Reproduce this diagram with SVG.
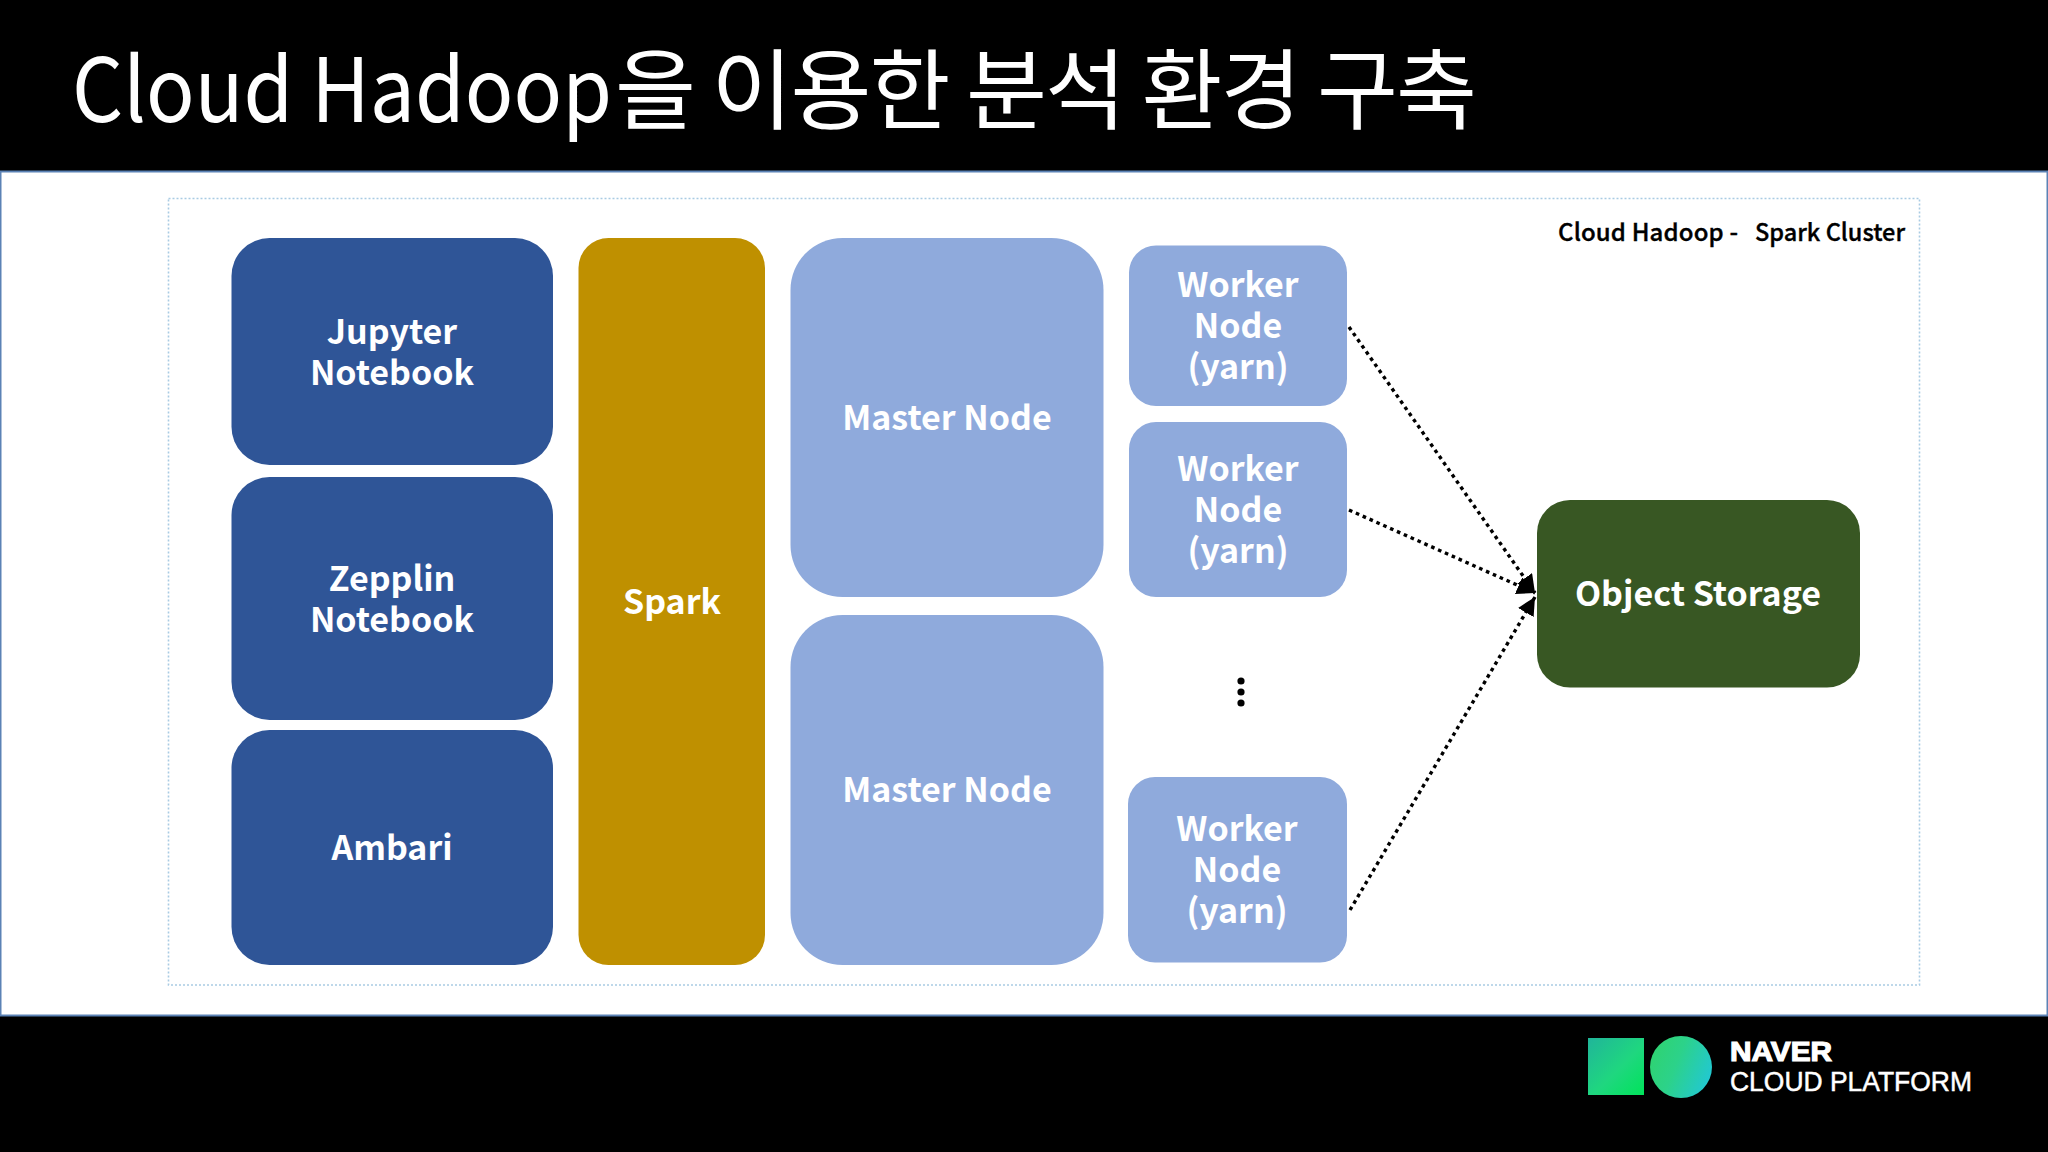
<svg xmlns="http://www.w3.org/2000/svg" width="2048" height="1152" viewBox="0 0 2048 1152">
<style>
.lbl{font-family:"Noto Sans CJK KR","Noto Sans",sans-serif;font-weight:700;font-size:34px;fill:#fff;text-anchor:middle}
.b{fill:#2F5597}.g{fill:#BF9000}.l{fill:#8FAADC}.o{fill:#385723}
.c{fill:none;stroke:#000;stroke-width:3.4;stroke-dasharray:3.6 3.9;marker-end:url(#arr)}
</style>
<defs>
<marker id="arr" markerUnits="userSpaceOnUse" markerWidth="20" markerHeight="18" refX="18" refY="9" orient="auto"><path d="M0 0L18 9L0 18Z" fill="#000"/></marker>
<linearGradient id="sq" x1="0" y1="0" x2="1" y2="1"><stop offset="0" stop-color="#20b59a"/><stop offset="0.55" stop-color="#1fd77f"/><stop offset="1" stop-color="#00e35a"/></linearGradient>
<linearGradient id="ci" x1="0" y1="0.2" x2="1" y2="0.6"><stop offset="0" stop-color="#2fd36f"/><stop offset="0.45" stop-color="#2cd28a"/><stop offset="1" stop-color="#22c8d0"/></linearGradient>
</defs>
<rect width="2048" height="1152" fill="#000"/>
<rect x="0.5" y="171.5" width="2047" height="844" fill="#fff" stroke="#5b82b5" stroke-width="2"/>
<text id="title" y="122" font-family="'Noto Sans CJK KR','Noto Sans',sans-serif" font-weight="400" font-size="88" fill="#fff"><tspan x="72" textLength="540" lengthAdjust="spacingAndGlyphs">Cloud Hadoop</tspan><tspan x="615" textLength="862" lengthAdjust="spacing">을 이용한 분석 환경 구축</tspan></text>
<rect id="frame" x="168.5" y="198.5" width="1751" height="786.5" fill="none" stroke="#a9cbe3" stroke-width="1.6" stroke-dasharray="2 2"/>
<text id="frame-label" y="241" font-family="'Noto Sans CJK KR','Noto Sans',sans-serif" font-weight="500" font-size="24" fill="#000" stroke="#000" stroke-width="0.35"><tspan x="1558" textLength="180" lengthAdjust="spacing">Cloud Hadoop -</tspan><tspan x="1755" textLength="150" lengthAdjust="spacingAndGlyphs">Spark Cluster</tspan></text>
<g id="jupyter"><rect class="b" x="231.5" y="238" width="321.5" height="227" rx="38"/><text class="lbl" x="392" y="344">Jupyter</text><text class="lbl" x="392" y="385">Notebook</text></g>
<g id="zeppelin"><rect class="b" x="231.5" y="477" width="321.5" height="243" rx="38"/><text class="lbl" x="392" y="591">Zepplin</text><text class="lbl" x="392" y="632">Notebook</text></g>
<g id="ambari"><rect class="b" x="231.5" y="730" width="321.5" height="235" rx="38"/><text class="lbl" x="392" y="860">Ambari</text></g>
<g id="spark"><rect class="g" x="578.5" y="238" width="186.5" height="727" rx="30"/><text class="lbl" x="672" y="614">Spark</text></g>
<g id="master1"><rect class="l" x="790.5" y="238" width="313" height="359" rx="52"/><text class="lbl" x="947" y="430">Master Node</text></g>
<g id="master2"><rect class="l" x="790.5" y="615" width="313" height="350" rx="52"/><text class="lbl" x="947" y="802">Master Node</text></g>
<g id="worker1"><rect class="l" x="1129" y="245.5" width="218" height="160.5" rx="27"/><text class="lbl" x="1238" y="297">Worker</text><text class="lbl" x="1238" y="338">Node</text><text class="lbl" x="1238" y="379">(yarn)</text></g>
<g id="worker2"><rect class="l" x="1129" y="422" width="218" height="175" rx="27"/><text class="lbl" x="1238" y="481">Worker</text><text class="lbl" x="1238" y="522">Node</text><text class="lbl" x="1238" y="563">(yarn)</text></g>
<g id="worker3"><rect class="l" x="1128" y="777" width="219" height="185.5" rx="27"/><text class="lbl" x="1237" y="841">Worker</text><text class="lbl" x="1237" y="882">Node</text><text class="lbl" x="1237" y="923">(yarn)</text></g>
<g id="storage"><rect class="o" x="1537" y="500" width="323" height="187.5" rx="33"/><text class="lbl" x="1698" y="606">Object Storage</text></g>
<g id="ellipsis" fill="#000"><circle cx="1241" cy="681" r="3.6"/><circle cx="1241" cy="692" r="3.6"/><circle cx="1241" cy="703" r="3.6"/></g>
<g id="connectors">
<path class="c" d="M1349 327L1535 593"/>
<path class="c" d="M1349 510L1535 593"/>
<path class="c" d="M1350 910L1535 597"/>
</g>
<g id="logo">
<rect x="1588" y="1038" width="56" height="57" fill="url(#sq)"/>
<circle cx="1681" cy="1067" r="31" fill="url(#ci)"/>
<text x="1730" y="1061" font-family="'Liberation Sans',Arial,sans-serif" font-weight="700" font-size="27" fill="#fff" stroke="#fff" stroke-width="1.2" textLength="102" lengthAdjust="spacingAndGlyphs">NAVER</text>
<text x="1730" y="1091" font-family="'Liberation Sans',Arial,sans-serif" font-size="27" fill="#fff" stroke="#fff" stroke-width="0.5" textLength="242" lengthAdjust="spacingAndGlyphs">CLOUD PLATFORM</text>
</g>
</svg>
